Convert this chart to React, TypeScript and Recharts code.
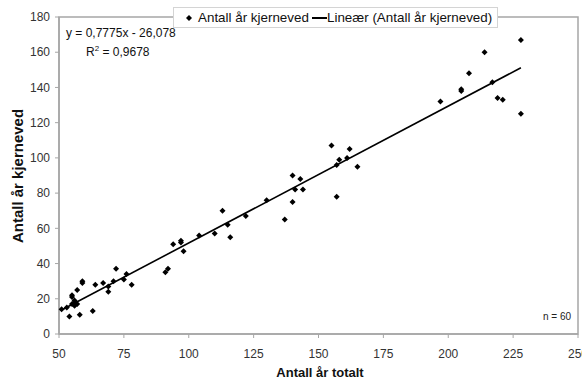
import React from 'react';
import { ScatterChart, Scatter, XAxis, YAxis, ReferenceArea } from 'recharts';

const xTicks = [50, 75, 100, 125, 150, 175, 200, 225, 250];
const yTicks = [0, 20, 40, 60, 80, 100, 120, 140, 160, 180];

const totalYears = [
  51, 53, 54, 58, 63, 55, 55, 56, 56, 55, 56, 57, 57, 59, 59, 64, 67, 69, 69, 71,
  72, 75, 76, 78, 91, 92, 94, 97, 97, 98, 104, 110, 113, 115, 116, 122, 130, 137, 140, 141,
  140, 143, 144, 155, 157, 158, 157, 161, 162, 165, 197, 205, 205, 208, 214, 217, 219, 221, 228, 228,
];
const heartwoodYears = [
  14, 15, 10, 11, 13, 22, 21, 19, 18, 17, 16, 17, 25, 30, 29, 28, 29, 24, 27, 30,
  37, 31, 34, 28, 35, 37, 51, 53, 52, 47, 56, 57, 70, 62, 55, 67, 76, 65, 75, 82,
  90, 88, 82, 107, 78, 99, 96, 100, 105, 95, 132, 138, 139, 148, 160, 143, 134, 133, 167, 125,
];

const trendX = [51, 228];
const trendY = [13.6, 151.2];

const points = totalYears.map((x, i) => ({ x, y: heartwoodYears[i] }));
const trend = trendX.map((x, i) => ({ x, y: trendY[i] }));

const FONT = '"Liberation Sans", Arial, sans-serif';

const Diamond = (props: any) => {
  const { cx, cy } = props;
  if (cx == null || cy == null) return <g />;
  const r = 3;
  return <path d={`M${cx},${cy - r}L${cx + r},${cy}L${cx},${cy + r}L${cx - r},${cy}Z`} fill="#000" />;
};

const NoShape = () => <g />;

const XLabel = () => (
  <text x={320} y={377} textAnchor="middle" fontFamily={FONT} fontSize={13} fontWeight="bold" fill="#111">
    Antall år totalt
  </text>
);

const YLabel = () => (
  <text
    x={17}
    y={176}
    transform="rotate(-90 17 176)"
    textAnchor="middle"
    dominantBaseline="central"
    fontFamily={FONT}
    fontSize={15}
    fontWeight="bold"
    fill="#111"
  >
    Antall år kjerneved
  </text>
);

export default function App() {
  return (
    <div style={{ position: 'absolute', left: 0, top: 0, width: 582, height: 383, background: '#fff', fontFamily: FONT }}>
      <ScatterChart width={582} height={383} margin={{ top: 17, right: 4, bottom: 19, left: 19 }}>
        <XAxis
          type="number"
          dataKey="x"
          domain={[50, 250]}
          ticks={xTicks}
          interval={0}
          height={30}
          axisLine={{ stroke: '#a6a6a6', strokeWidth: 1.5 }}
          tickLine={{ stroke: '#a6a6a6' }}
          tickSize={4}
          tickMargin={11}
          tick={{ fill: '#333', fontSize: 12, fontFamily: FONT }}
          label={<XLabel />}
        />
        <YAxis
          type="number"
          dataKey="y"
          domain={[0, 180]}
          ticks={yTicks}
          interval={0}
          width={40}
          axisLine={{ stroke: '#a6a6a6', strokeWidth: 1.5 }}
          tickLine={{ stroke: '#a6a6a6' }}
          tickSize={4}
          tickMargin={5}
          tick={{ fill: '#333', fontSize: 12, fontFamily: FONT }}
          label={<YLabel />}
        />
        <ReferenceArea x1={50} x2={250} y1={0} y2={180} fill="none" stroke="#a6a6a6" strokeWidth={1.5} />
        <Scatter data={trend} line={{ stroke: '#000', strokeWidth: 1.6 }} shape={NoShape} isAnimationActive={false} />
        <Scatter data={points} shape={Diamond} isAnimationActive={false} />
      </ScatterChart>

      <div style={{ position: 'absolute', left: 66, top: 26, fontSize: 12, lineHeight: '14px', color: '#111', whiteSpace: 'nowrap' }}>
        y = 0,7775x - 26,078
      </div>
      <div style={{ position: 'absolute', left: 86, top: 45, fontSize: 12, lineHeight: '14px', color: '#111', whiteSpace: 'nowrap' }}>
        R<sup style={{ fontSize: 8, verticalAlign: 'top', lineHeight: '8px' }}>2</sup> = 0,9678
      </div>
      <div style={{ position: 'absolute', left: 543, top: 311, fontSize: 10, lineHeight: '12px', color: '#222', whiteSpace: 'nowrap' }}>
        n = 60
      </div>

      <div
        style={{
          position: 'absolute',
          left: 173,
          top: 7,
          width: 325,
          height: 21,
          background: '#fff',
          border: '1px solid #d4d4d4',
          boxSizing: 'border-box',
          fontSize: 13.4,
          color: '#111',
          whiteSpace: 'nowrap',
        }}
      >
        <svg width={8} height={8} style={{ position: 'absolute', left: 11, top: 6 }}>
          <path d="M4,1L7,4L4,7L1,4Z" fill="#000" />
        </svg>
        <span style={{ position: 'absolute', left: 24, top: 2, lineHeight: '15px' }}>Antall år kjerneved</span>
        <div style={{ position: 'absolute', left: 138, top: 9, width: 15, height: 2, background: '#000' }} />
        <span style={{ position: 'absolute', left: 153, top: 2, lineHeight: '15px' }}>Lineær (Antall år kjerneved)</span>
      </div>
    </div>
  );
}
